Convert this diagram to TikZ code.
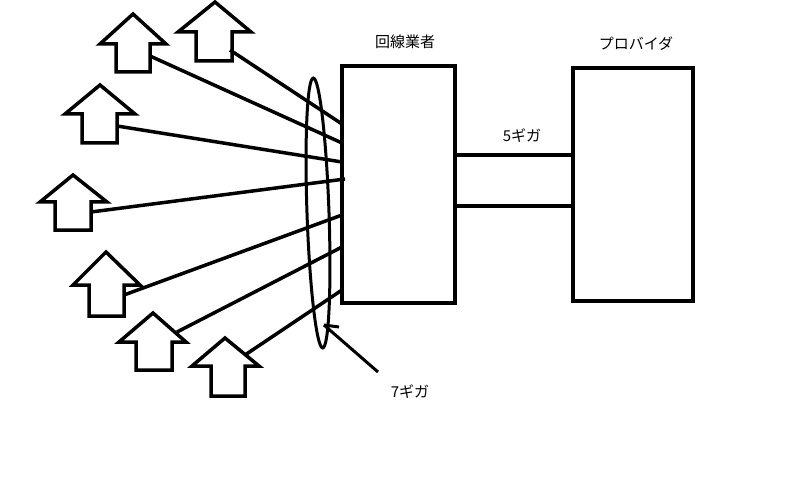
\documentclass[tikz,border=0pt]{standalone}
\usepackage{fontspec}
\newfontfamily\cjk{Noto Sans CJK JP}
\begin{document}
\begin{tikzpicture}[x=1pt,y=-1pt,line width=3.5pt,
  lbl/.style={font=\cjk\fontsize{15}{15}\selectfont,inner sep=0pt},
  box/.style={draw,line width=3.5pt},
  up/.style={line width=3.5pt,line join=miter}]
\useasboundingbox (0,0) rectangle (791,478);
\fill[white] (0,0) rectangle (791,478);
\def\arr#1#2#3#4#5#6#7#8{\draw[up] (#1,#2) -- (#4,#7) -- (#6,#7) -- (#6,#8) -- (#5,#8) -- (#5,#7) -- (#3,#7) -- cycle;}
\arr{133}{14}{100}{166}{116}{150}{44}{72}
\arr{215}{2}{178}{251}{196}{232}{32}{61}
\arr{100}{85}{65}{135}{82}{117}{114}{143}
\arr{73}{175}{40}{107}{55}{91}{202}{230}
\arr{106}{252}{73}{140}{89}{124}{285}{316}
\arr{153}{313}{119}{186}{136}{172}{342}{370}
\arr{225}{338}{192}{259}{211}{245}{366}{396}
\node[box,minimum width=113pt,minimum height=237pt,inner sep=0pt] (isp) at (398.5,184.5) {};
\node[box,minimum width=120pt,minimum height=233pt,inner sep=0pt] (prov) at (633,184.5) {};
\node[lbl] (t1) at (405,42) {回線業者};
\node[lbl] (t2) at (636,44) {プロバイダ};
\node[lbl] (t3) at (522,136) {5ギガ};
\node[lbl] (t4) at (410,392) {7ギガ};
\draw (isp.east |- 0,155) -- (prov.west |- 0,155);
\draw (isp.east |- 0,206) -- (prov.west |- 0,206);
\coordinate (e1) at (342,124); \coordinate (e2) at (342,143);
\coordinate (e3) at (342,162); \coordinate (e4) at (345,179);
\coordinate (e5) at (342,215); \coordinate (e6) at (342,247);
\coordinate (e7) at (342,290);
\draw (230,50) -- (e1);
\draw (150,56) -- (e2);
\draw (117,126) -- (e3);
\draw (91,212) -- (e4);
\draw (124,295) -- (e5);
\draw (177,332) -- (e6);
\draw (245,355) -- (e7);
\draw[line width=3pt,rotate around={2:(318,213)}] (318,213) ellipse [x radius=11, y radius=135];
\coordinate (p0) at (324,325); \coordinate (p1) at (378,372);
\draw[line width=3pt] (p0) -- (p1);
\draw[line width=3pt] (p0) -- (339,327);
\end{tikzpicture}
\end{document}
